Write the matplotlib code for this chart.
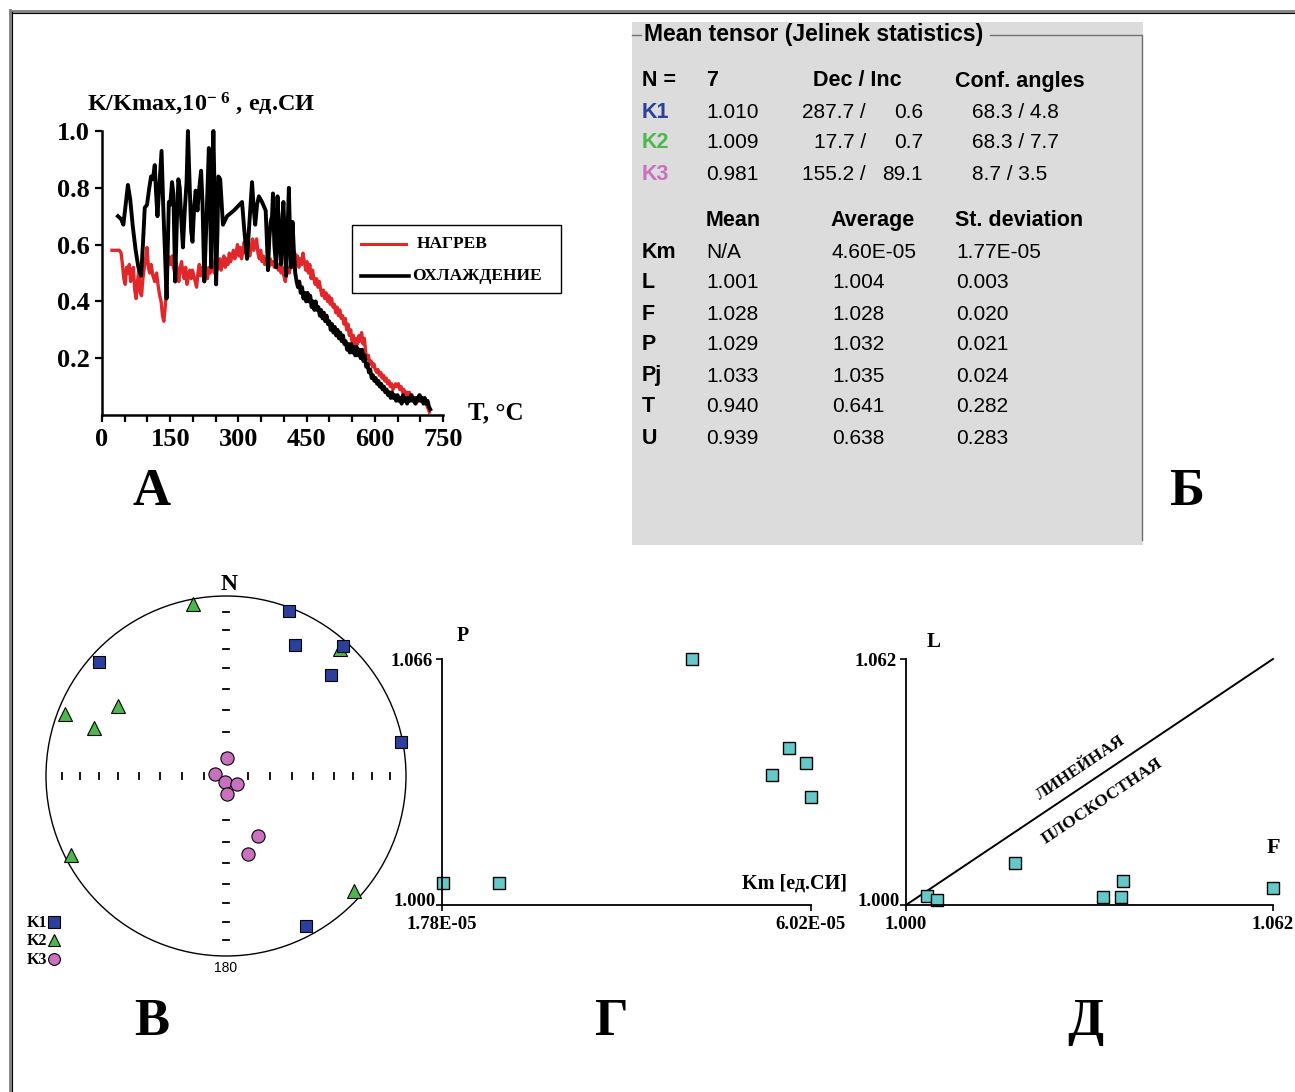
import numpy as np
import matplotlib
matplotlib.use('Agg')
import matplotlib.pyplot as plt
from matplotlib.lines import Line2D
from matplotlib.patches import Rectangle, Circle

# ---- panel A: K/Kmax vs temperature (heating / cooling), (T, K) pairs
heating = [(22, .58), (30, .58), (38, .58), (42, .57), (45, .53), (48, .48), (51, .46), (54, .52), (57, .50), (60, .53),
           (63, .47), (66, .50), (69, .52), (72, .44), (75, .41), (78, .47), (81, .51), (84, .43), (87, .42), (90, .48),
           (93, .52), (96, .55), (99, .59), (102, .52), (105, .50), (108, .53), (112, .49), (116, .47), (120, .50),
           (124, .45), (127, .42), (130, .40), (133, .35), (136, .33), (139, .38), (142, .45), (145, .56), (148, .55),
           (151, .53), (154, .56), (157, .52), (160, .50), (163, .54), (166, .49), (169, .47), (172, .52), (175, .54),
           (178, .50), (181, .48), (184, .52), (187, .46), (190, .49), (193, .51), (196, .48), (199, .51), (202, .49),
           (205, .47), (208, .45), (211, .50), (214, .53), (217, .49), (220, .52), (223, .50), (226, .54), (229, .49),
           (232, .48), (235, .52), (238, .50), (241, .55), (244, .53), (247, .50), (250, .54), (253, .51), (256, .52),
           (259, .55), (262, .51), (265, .54), (268, .56), (271, .52), (274, .55), (277, .53), (280, .57), (283, .54),
           (286, .56), (289, .58), (292, .55), (295, .57), (298, .60), (301, .56), (304, .59), (307, .55), (310, .58),
           (313, .61), (316, .57), (319, .61), (322, .58), (325, .56), (328, .59), (331, .62), (334, .58), (337, .60),
           (340, .62), (343, .57), (346, .55), (349, .58), (352, .54), (355, .56), (358, .53), (361, .55), (364, .54),
           (367, .52), (370, .55), (373, .53), (376, .54), (379, .52), (382, .54), (385, .53), (388, .51), (391, .53),
           (394, .50), (397, .52), (400, .49), (403, .47), (406, .50), (409, .52), (412, .50), (415, .53), (418, .55),
           (421, .52), (424, .57), (427, .53), (430, .56), (433, .52), (436, .55), (439, .53), (442, .57), (445, .54),
           (448, .51), (451, .54), (454, .50), (457, .53), (460, .48), (463, .51), (466, .48), (469, .46), (472, .48),
           (475, .45), (478, .47), (481, .44), (484, .42), (487, .44), (490, .41), (493, .43), (496, .40), (499, .42),
           (502, .39), (505, .41), (508, .38), (511, .39), (514, .36), (517, .38), (520, .35), (523, .37), (526, .34),
           (529, .35), (532, .32), (535, .34), (538, .30), (541, .32), (544, .28), (547, .30), (550, .26), (553, .28),
           (556, .24), (559, .27), (562, .25), (565, .28), (568, .26), (571, .29), (574, .25), (577, .27), (580, .22),
           (583, .20), (586, .21), (589, .18), (592, .19), (595, .17), (598, .18), (601, .16), (604, .15), (607, .16),
           (610, .14), (613, .15), (616, .13), (619, .14), (622, .12), (625, .13), (628, .11), (631, .12), (634, .10),
           (637, .11), (640, .09), (643, .10), (646, .11), (649, .10), (652, .11), (655, .09), (658, .10), (661, .08),
           (664, .09), (667, .07), (670, .08), (673, .06), (676, .08), (679, .06), (682, .07), (685, .05), (688, .06),
           (691, .04), (694, .06), (697, .05), (700, .07), (703, .05), (706, .06), (709, .04), (712, .05), (715, .03),
           (718, .02), (720, .01)]
cooling = [(35, .70), (42, .69), (47, .67), (52, .74), (57, .81), (62, .76), (68, .66), (74, .58), (80, .52), (86, .49),
           (90, .60), (94, .73), (99, .74), (104, .80), (108, .84), (112, .83), (116, .88), (119, .78), (122, .70),
           (126, .80), (131, .93), (135, .72), (139, .55), (142, .41), (145, .62), (147, .75), (150, .74), (154, .82),
           (157, .78), (161, .47), (165, .70), (168, .83), (171, .80), (174, .70), (178, .59), (182, .72), (186, .82),
           (189, 1.0), (193, .80), (196, .65), (199, .61), (203, .74), (206, .79), (210, .72), (214, .80), (218, .86),
           (221, .75), (225, .47), (229, .65), (233, .85), (235, .94), (238, .72), (240, .52), (243, .85), (245, 1.0),
           (248, .75), (251, .46), (254, .65), (256, .84), (260, .83), (263, .75), (266, .67), (275, .70), (290, .72),
           (308, .75), (313, .65), (319, .55), (325, .70), (330, .82), (334, .72), (337, .67), (341, .74), (345, .77),
           (352, .75), (360, .72), (363, .60), (365, .51), (368, .62), (371, .68), (374, .70), (376, .78), (379, .60),
           (383, .52), (386, .77), (390, .62), (394, .53), (397, .70), (399, .75), (402, .62), (405, .49), (408, .65),
           (411, .80), (414, .60), (416, .52), (419, .68), (422, .58), (425, .50), (428, .47), (431, .45), (434, .47),
           (437, .43), (440, .45), (443, .41), (446, .43), (449, .40), (452, .43), (455, .40), (458, .42), (461, .38),
           (464, .40), (467, .37), (470, .40), (473, .37), (476, .38), (479, .35), (482, .37), (485, .34), (488, .36),
           (491, .33), (494, .35), (497, .32), (500, .33), (503, .30), (506, .32), (509, .29), (512, .31), (515, .28),
           (518, .30), (521, .27), (524, .29), (527, .26), (530, .28), (533, .25), (536, .26), (539, .23), (542, .25),
           (545, .22), (548, .25), (551, .22), (554, .24), (557, .21), (560, .24), (563, .21), (566, .23), (569, .20),
           (572, .23), (575, .19), (578, .21), (581, .17), (584, .18), (587, .15), (590, .16), (593, .13), (596, .14),
           (599, .12), (602, .13), (605, .11), (608, .12), (611, .10), (614, .11), (617, .09), (620, .10), (623, .08),
           (626, .09), (629, .07), (632, .08), (635, .06), (638, .08), (641, .06), (644, .07), (647, .05), (650, .07),
           (653, .05), (656, .06), (659, .04), (662, .07), (665, .05), (668, .06), (671, .04), (674, .06), (677, .05),
           (680, .07), (683, .05), (686, .06), (689, .04), (692, .06), (695, .05), (698, .07), (701, .05), (704, .06),
           (707, .04), (710, .06), (713, .04), (716, .05), (719, .03), (722, .02)]
a_xticks = [0, 150, 300, 450, 600, 750]
a_yticks = [0.2, 0.4, 0.6, 0.8, 1.0]
a_series = ['НАГРЕВ', 'ОХЛАЖДЕНИЕ']

# ---- panel Б: Jelinek statistics table
k_names = ['K1', 'K2', 'K3']
k_eigen = ['1.010', '1.009', '0.981']
k_dec = ['287.7', '17.7', '155.2']
k_inc = ['0.6', '0.7', '89.1']
k_conf = ['68.3 / 4.8', '68.3 / 7.7', '8.7 / 3.5']
p_names = ['Km', 'L', 'F', 'P', 'Pj', 'T', 'U']
p_mean = ['N/A', '1.001', '1.028', '1.029', '1.033', '0.940', '0.939']
p_avg = ['4.60E-05', '1.004', '1.028', '1.032', '1.035', '0.641', '0.638']
p_sd = ['1.77E-05', '0.003', '0.020', '0.021', '0.024', '0.282', '0.283']

# ---- panel В: principal axes directions (declination, inclination), equal-area net
k1_dec = [21, 28, 42, 46, 312, 79, 152]
k1_inc = [2, 19, 3, 20, 6, 1, 6]
k2_dec = [349, 42, 291, 290, 303, 243, 132]
k2_inc = [3, 6, 5, 23, 29, 4, 5]
k3_dec = [3, 283, 193, 125, 177, 152, 164]
k3_inc = [82, 85, 87, 84, 82, 59, 53]

# ---- panel Г: P vs Km ; panel Д: L vs F
km = [4.65e-5, 5.77e-5, 5.96e-5, 5.57e-5, 6.02e-5, 1.79e-5, 2.44e-5]
p_vals = [1.066, 1.042, 1.038, 1.035, 1.029, 1.006, 1.006]
f_vals = [1.0036, 1.0052, 1.0184, 1.0333, 1.0364, 1.0366, 1.062]
l_vals = [1.0023, 1.0013, 1.0107, 1.0019, 1.0021, 1.0060, 1.0042]

W, H = 1295, 1092
SERIF = 'Liberation Serif'
SANS = 'Liberation Sans'
plt.rcParams['mathtext.fontset'] = 'custom'
plt.rcParams['mathtext.rm'] = 'Liberation Serif:bold'
plt.rcParams['mathtext.it'] = 'Liberation Serif:bold'
plt.rcParams['mathtext.bf'] = 'Liberation Serif:bold'

RED = '#e2272b'
K1C, K2C, K3C = '#2b3f9c', '#4cb84c', '#c970bf'
CYAN = '#66c9c9'

fig = plt.figure(figsize=(W / 100, H / 100), dpi=100)


def px_axes(x0, y0, x1, y1):
    return fig.add_axes([x0 / W, 1 - y1 / H, (x1 - x0) / W, (y1 - y0) / H])


def ftext(x, y, s, **kw):
    kw.setdefault('va', 'center')
    return fig.text(x / W, 1 - y / H, s, **kw)


def fline(xs, ys, **kw):
    fig.add_artist(Line2D([x / W for x in xs], [1 - y / H for y in ys], **kw))


def fmark(x, y, **kw):
    fig.add_artist(Line2D([x / W], [1 - y / H], ls='none', **kw))


def serif_ticks(ax, size):
    for lbl in ax.get_xticklabels() + ax.get_yticklabels():
        lbl.set_fontfamily(SERIF)
        lbl.set_fontweight('bold')
        lbl.set_fontsize(size)


# outer frame (top and left edges only)
fline([10, 10], [1092, 10], color='#808080', lw=2.0)
fline([10, 1295], [11, 11], color='#808080', lw=2.0)
fline([12, 12], [1092, 12], color='black', lw=0.8)
fline([12, 1295], [13, 13], color='black', lw=0.8)

# ================= A =================
axA = px_axes(102, 131, 443, 415)
hT, hK = zip(*heating)
cT, cK = zip(*cooling)
axA.plot(hT, hK, color=RED, lw=2.4, clip_on=False)
axA.plot(cT, cK, color='black', lw=2.8, clip_on=False)
axA.set_xlim(0, 750)
axA.set_ylim(0, 1.0)
for s in ['top', 'right']:
    axA.spines[s].set_visible(False)
for s in ['left', 'bottom']:
    axA.spines[s].set_linewidth(1.8)
axA.set_xticks(a_xticks)
axA.set_xticks(np.arange(0, 751, 50), minor=True)
axA.set_yticks(a_yticks)
axA.set_yticklabels(['%.1f' % v for v in a_yticks])
axA.tick_params(which='both', direction='out', length=5, width=1.6, pad=4)
serif_ticks(axA, 19)

ftext(87, 104, r'K/Kmax,10$^{-\ 6}$ , ед.СИ', family=SERIF, weight='bold', size=17.5, ha='left')
ftext(468, 413, 'T, °C', family=SERIF, weight='bold', size=18, ha='left')

fig.add_artist(Rectangle((352 / W, 1 - 293 / H), (561 - 352) / W, (293 - 225) / H, fill=False,
                         ec='black', lw=1.0, transform=fig.transFigure))
fline([361, 406], [244, 244], color=RED, lw=2.2)
fline([361, 409], [276, 276], color='black', lw=2.6)
ftext(417, 244, a_series[0], family=SERIF, weight='bold', size=12.5, ha='left')
ftext(412, 276, a_series[1], family=SERIF, weight='bold', size=12.5, ha='left')

# ================= Б =================
fig.add_artist(Rectangle((632 / W, 1 - 545 / H), (1143 - 632) / W, (545 - 22) / H, fc='#dcdcdc',
                         ec='none', transform=fig.transFigure, zorder=0))
fline([632, 641], [35, 35], color='#707070', lw=1.0)
fline([990, 1142, 1142], [35, 35, 540], color='#707070', lw=1.0)
ftext(644, 35, 'Mean tensor (Jelinek statistics)', family=SANS, weight='bold', size=16.5, ha='left')

tb = dict(family=SANS, weight='bold', size=15.5, ha='left')
tv = dict(family=SANS, size=15, ha='left')
ftext(642, 81, 'N =', **tb)
ftext(706, 81, '7', **tb)
ftext(813, 81, 'Dec / Inc', **tb)
ftext(955, 81, 'Conf. angles', **tb)
k_rows = [112, 143, 174]
for i, y in enumerate(k_rows):
    ftext(642, y, k_names[i], family=SANS, weight='bold', size=15.5, ha='left', color=[K1C, K2C, K3C][i])
    ftext(706, y, k_eigen[i], **tv)
    ftext(866, y, k_dec[i] + ' /', family=SANS, size=15, ha='right')
    ftext(923, y, k_inc[i], family=SANS, size=15, ha='right')
    ftext(972, y, k_conf[i], **tv)

ftext(706, 221, 'Mean', **tb)
ftext(830, 221, 'Average', **tb)
ftext(955, 221, 'St. deviation', **tb)
p_rows = [252, 283, 314, 345, 376, 407, 438]
for i, y in enumerate(p_rows):
    ftext(642, y, p_names[i], **tb)
    ftext(706, y, p_mean[i], **tv)
    ftext(832, y, p_avg[i], **tv)
    ftext(956, y, p_sd[i], **tv)

# ================= В =================
axB = px_axes(26, 576, 426, 976)
axB.set_xlim(-400 / 360, 400 / 360)
axB.set_ylim(-400 / 360, 400 / 360)
axB.axis('off')
axB.patch.set_alpha(0)
axB.add_patch(Circle((0, 0), 1, fill=False, ec='black', lw=1.0))
for inc in range(10, 90, 10):
    r = np.sqrt(2) * np.sin(np.radians(90 - inc) / 2)
    for sgn in (-1, 1):
        axB.plot([sgn * r, sgn * r], [-0.016, 0.016], color='black', lw=1.3)
        axB.plot([-0.014, 0.014], [sgn * r, sgn * r], color='black', lw=1.3)


def schmidt(dec, inc):
    dec = np.radians(np.asarray(dec, float))
    r = np.sqrt(2) * np.sin(np.radians(90 - np.asarray(inc, float)) / 2)
    return r * np.sin(dec), r * np.cos(dec)


x2, y2 = schmidt(k2_dec, k2_inc)
x1, y1 = schmidt(k1_dec, k1_inc)
x3, y3 = schmidt(k3_dec, k3_inc)
axB.plot(x2, y2, '^', ms=9.5, mfc=K2C, mec='black', mew=0.8, ls='none', clip_on=False)
axB.plot(x1, y1, 's', ms=8.5, mfc=K1C, mec='black', mew=0.8, ls='none', clip_on=False)
axB.plot(x3, y3, 'o', ms=9.5, mfc=K3C, mec='black', mew=0.8, ls='none', clip_on=False)

ftext(229, 584, 'N', family=SERIF, weight='bold', size=17, ha='center')
ftext(226, 968, '180', family=SANS, size=10, ha='center')
for lab, y, mk, col, ms in [('K1', 922, 's', K1C, 8), ('K2', 940, '^', K2C, 9), ('K3', 959, 'o', K3C, 8.5)]:
    ftext(27, y + 1, lab, family=SERIF, weight='bold', size=11.5, ha='left')
    fmark(54, y, marker=mk, ms=ms, mfc=col, mec='black', mew=0.8)

# ================= Г =================
axG = px_axes(442, 659, 811, 905)
axG.plot(km, p_vals, 's', ms=8, mfc=CYAN, mec='black', mew=1.0, ls='none', clip_on=False)
axG.set_xlim(1.78e-5, 6.02e-5)
axG.set_ylim(1.0, 1.066)
axG.set_xticks([1.78e-5, 6.02e-5])
axG.set_xticklabels(['1.78E-05', '6.02E-05'])
axG.set_yticks([1.0, 1.066])
axG.set_yticklabels(['', '1.066'])

# ================= Д =================
axD = px_axes(906, 659, 1273, 905)
axD.plot([1.0, 1.062], [1.0, 1.062], color='black', lw=1.4, clip_on=False)
axD.plot(f_vals, l_vals, 's', ms=8, mfc=CYAN, mec='black', mew=1.0, ls='none', clip_on=False)
axD.set_xlim(1.0, 1.062)
axD.set_ylim(1.0, 1.062)
axD.set_xticks([1.0, 1.062])
axD.set_xticklabels(['1.000', '1.062'])
axD.set_yticks([1.0, 1.062])
axD.set_yticklabels(['', '1.062'])

for ax in (axG, axD):
    ax.patch.set_alpha(0)
    for s in ['top', 'right']:
        ax.spines[s].set_visible(False)
    for s in ['left', 'bottom']:
        ax.spines[s].set_linewidth(1.3)
    ax.tick_params(direction='out', length=4, width=1.2)
    ax.tick_params(axis='x', pad=4)
    ax.tick_params(axis='y', pad=2.5)
    serif_ticks(ax, 13.5)

# bottom y labels, nudged up a little so they clear the x labels
ftext(436, 902, '1.000', family=SERIF, weight='bold', size=13.5, ha='right')
ftext(900, 902, '1.000', family=SERIF, weight='bold', size=13.5, ha='right')

ftext(463, 636, 'P', family=SERIF, weight='bold', size=14.5, ha='center')
ftext(795, 884, 'Km [ед.СИ]', family=SERIF, weight='bold', size=14.5, ha='center')
ftext(934, 642, 'L', family=SERIF, weight='bold', size=15, ha='center')
ftext(1273, 848, 'F', family=SERIF, weight='bold', size=16, ha='center')
ftext(1081, 768, 'ЛИНЕЙНАЯ', family=SERIF, weight='bold', size=12.5, ha='center',
      rotation=33.8, rotation_mode='anchor')
ftext(1102, 801, 'ПЛОСКОСТНАЯ', family=SERIF, weight='bold', size=12.5, ha='center',
      rotation=33.8, rotation_mode='anchor')

# panel letters
for lab, x, y in [('А', 152, 492), ('Б', 1187, 492), ('В', 152, 1022), ('Г', 612, 1022), ('Д', 1085, 1022)]:
    ftext(x, y, lab, family=SERIF, weight='bold', size=38, ha='center')

fig.savefig('out.png', dpi=100)
